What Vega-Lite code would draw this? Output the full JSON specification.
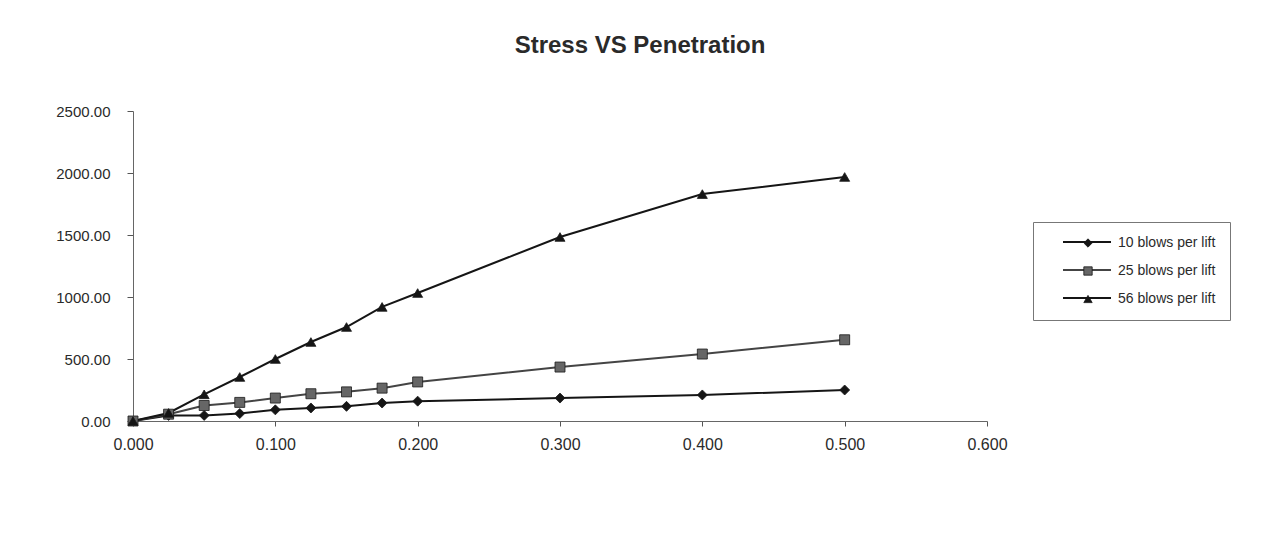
{
  "$schema": "https://vega.github.io/schema/vega-lite/v6.json",
  "autosize": "none",
  "width": 854,
  "height": 310,
  "padding": {"left": 133, "top": 111, "right": 278, "bottom": 124},
  "background": "white",
  "config": {
    "font": "Liberation Sans",
    "view": {"stroke": null}
  },
  "title": {
    "text": "Stress VS Penetration",
    "font": "Liberation Sans",
    "fontSize": 24,
    "fontWeight": "bold",
    "color": "#2a2a2a",
    "anchor": "middle",
    "frame": "group",
    "dx": 80,
    "offset": 46
  },
  "data": {
    "values": [
      {"x": 0.000, "stress": 0, "series": "10 blows per lift"},
      {"x": 0.025, "stress": 45, "series": "10 blows per lift"},
      {"x": 0.050, "stress": 45, "series": "10 blows per lift"},
      {"x": 0.075, "stress": 60, "series": "10 blows per lift"},
      {"x": 0.100, "stress": 90, "series": "10 blows per lift"},
      {"x": 0.125, "stress": 105, "series": "10 blows per lift"},
      {"x": 0.150, "stress": 118, "series": "10 blows per lift"},
      {"x": 0.175, "stress": 145, "series": "10 blows per lift"},
      {"x": 0.200, "stress": 160, "series": "10 blows per lift"},
      {"x": 0.300, "stress": 185, "series": "10 blows per lift"},
      {"x": 0.400, "stress": 210, "series": "10 blows per lift"},
      {"x": 0.500, "stress": 250, "series": "10 blows per lift"},
      {"x": 0.000, "stress": 0, "series": "25 blows per lift"},
      {"x": 0.025, "stress": 55, "series": "25 blows per lift"},
      {"x": 0.050, "stress": 125, "series": "25 blows per lift"},
      {"x": 0.075, "stress": 150, "series": "25 blows per lift"},
      {"x": 0.100, "stress": 185, "series": "25 blows per lift"},
      {"x": 0.125, "stress": 220, "series": "25 blows per lift"},
      {"x": 0.150, "stress": 235, "series": "25 blows per lift"},
      {"x": 0.175, "stress": 265, "series": "25 blows per lift"},
      {"x": 0.200, "stress": 315, "series": "25 blows per lift"},
      {"x": 0.300, "stress": 435, "series": "25 blows per lift"},
      {"x": 0.400, "stress": 540, "series": "25 blows per lift"},
      {"x": 0.500, "stress": 655, "series": "25 blows per lift"},
      {"x": 0.000, "stress": 0, "series": "56 blows per lift"},
      {"x": 0.025, "stress": 65, "series": "56 blows per lift"},
      {"x": 0.050, "stress": 215, "series": "56 blows per lift"},
      {"x": 0.075, "stress": 355, "series": "56 blows per lift"},
      {"x": 0.100, "stress": 500, "series": "56 blows per lift"},
      {"x": 0.125, "stress": 637, "series": "56 blows per lift"},
      {"x": 0.150, "stress": 758, "series": "56 blows per lift"},
      {"x": 0.175, "stress": 920, "series": "56 blows per lift"},
      {"x": 0.200, "stress": 1032, "series": "56 blows per lift"},
      {"x": 0.300, "stress": 1484, "series": "56 blows per lift"},
      {"x": 0.400, "stress": 1830, "series": "56 blows per lift"},
      {"x": 0.500, "stress": 1968, "series": "56 blows per lift"}
    ]
  },
  "encoding": {
    "x": {
      "field": "x", "type": "quantitative",
      "scale": {"domain": [0, 0.6], "nice": false},
      "axis": {
        "title": null, "values": [0, 0.1, 0.2, 0.3, 0.4, 0.5, 0.6], "format": ".3f",
        "grid": false, "domainColor": "#666", "tickColor": "#555", "tickSize": 5,
        "labelFontSize": 16, "labelColor": "#2a2a2a", "labelPadding": 10, "labelFlush": false
      }
    },
    "y": {
      "field": "stress", "type": "quantitative",
      "scale": {"domain": [0, 2500], "nice": false},
      "axis": {
        "title": null, "values": [0, 500, 1000, 1500, 2000, 2500], "format": ".2f",
        "grid": false, "domainColor": "#666", "tickColor": "#555", "tickSize": 6,
        "labelFontSize": 15, "labelColor": "#2a2a2a", "labelPadding": 17, "labelFlush": false
      }
    }
  },
  "layer": [
    {
      "mark": {"type": "line", "strokeWidth": 2},
      "encoding": {
        "color": {
          "field": "series", "type": "nominal",
          "scale": {"domain": ["10 blows per lift", "25 blows per lift", "56 blows per lift"], "range": ["#151515", "#444444", "#151515"]},
          "legend": {
            "title": null,
            "orient": "none",
            "legendX": 916,
            "legendY": 111,
            "symbolType": "stroke",
            "symbolSize": 2304,
            "symbolStrokeWidth": 2,
            "labelExpr": "''",
            "labelFontSize": 14,
            "labelOffset": 4,
            "clipHeight": 14,
            "rowPadding": 14,
            "padding": 13,
            "strokeColor": null,
            "fillColor": null
          }
        }
      }
    },
    {
      "mark": {"type": "point", "filled": true, "size": 100, "opacity": 1, "stroke": "#1a1a1a", "strokeWidth": 0.8},
      "encoding": {
        "shape": {
          "field": "series", "type": "nominal",
          "scale": {"range": ["diamond", "square", "triangle-up"]},
          "legend": {
            "title": " ",
            "titleOrient": "left",
            "titleFontSize": 14,
            "titlePadding": 34,
            "titleOpacity": 0,
            "orient": "none",
            "legendX": 900,
            "legendY": 111,
            "symbolSize": 70,
            "symbolOpacity": 1,
            "symbolFillColor": "#151515",
            "symbolStrokeColor": "#151515",
            "symbolStrokeWidth": 0.8,
            "labelFontSize": 14,
            "labelColor": "#2a2a2a",
            "labelOffset": 23,
            "labelLimit": 250,
            "rowPadding": 14,
            "padding": 14,
            "strokeColor": "#777",
            "fillColor": null
          }
        },
        "fill": {
          "field": "series", "type": "nominal",
          "scale": {"range": ["#151515", "#666666", "#151515"]},
          "legend": null
        }
      }
    }
  ]
}
